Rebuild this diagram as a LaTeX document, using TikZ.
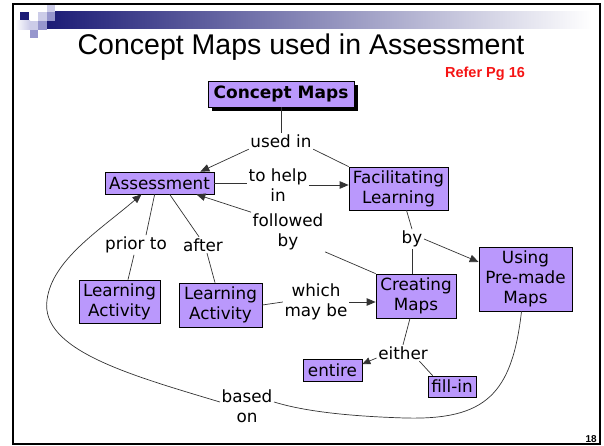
\documentclass[tikz,border=0pt]{standalone}
\usepackage{fontspec}
\setmainfont{DejaVu Sans}
\newfontfamily\arialf{Liberation Sans}
\usetikzlibrary{arrows.meta,calc,shadows}
\definecolor{lav}{RGB}{186,152,252}
\definecolor{barnavy}{RGB}{28,28,118}
\definecolor{sqpale}{RGB}{204,204,232}
\definecolor{sqmid}{RGB}{150,150,205}
\definecolor{refred}{RGB}{245,20,20}
\tikzset{
  cbox/.style={draw=black, line width=0.7pt, fill=lav, font=\fontsize{16.8}{20}\selectfont,
    align=center, inner sep=0pt, text=black},
  lbl/.style={font=\fontsize{16.8}{20}\selectfont, align=center, inner sep=1.5pt, text=black},
  link/.style={draw=black!80, line width=0.7pt},
  arr/.style={link, -{Triangle[length=9pt,width=7.5pt]}},
}
\begin{document}
\begin{tikzpicture}[x=1pt,y=-1pt]
\useasboundingbox (0,0) rectangle (604,446);
% slide frame and header
\draw[line width=2pt] (13,4) rectangle (600,444);
\shade[left color=barnavy, right color=white] (47,12) rectangle (592,29);
\fill[barnavy] (20,12) rectangle (29,21);
\fill[sqpale] (38,12) rectangle (47,21);
\fill[sqpale] (47,5) rectangle (55,12);
\fill[sqmid] (47,12) rectangle (55,21);
\shade[left color=white, right color=sqpale] (15,21) rectangle (30,30);
\fill[sqpale] (30,21) rectangle (38,30);
\fill[sqmid] (38,21) rectangle (47,30);
\fill[sqmid] (30,30) rectangle (38,38);
% titles
\node[font=\arialf\fontsize{28.5}{30}\selectfont] (title) at (301,47) {Concept Maps used in Assessment};
\node[font=\arialf\bfseries\fontsize{14.5}{16}\selectfont, text=refred] (refer) at (485,74) {Refer Pg 16};
\node[font=\arialf\bfseries\fontsize{10}{11}\selectfont, anchor=south east, inner sep=0pt] (pg) at (597,443) {18};
% concept nodes
\node[cbox, font=\bfseries\fontsize{17}{19}\selectfont, minimum width=146pt, minimum height=26pt,
  drop shadow={shadow xshift=4pt, shadow yshift=-4pt, fill=black, opacity=1}] (cm) at (281,94) {Concept Maps};
\node[cbox, minimum width=109pt, minimum height=22pt] (assess) at (159.5,183) {Assessment};
\node[cbox, minimum width=99pt, minimum height=43pt] (facil) at (398.5,188.5) {Facilitating\\Learning};
\node[cbox, minimum width=93pt, minimum height=64pt] (using) at (525.5,279) {Using\\Pre-made\\Maps};
\node[cbox, minimum width=81pt, minimum height=43pt] (la1) at (119.5,301.5) {Learning\\Activity};
\node[cbox, minimum width=83pt, minimum height=44pt] (la2) at (220.5,305) {Learning\\Activity};
\node[cbox, minimum width=80pt, minimum height=44pt] (creating) at (416,296) {Creating\\Maps};
\node[cbox, minimum width=59pt, minimum height=22pt] (entire) at (332.5,370) {entire};
\node[cbox, minimum width=48pt, minimum height=21pt] (fillin) at (452,386.5) {fill-in};
% linking phrases
\node[lbl] (usedin) at (281,141) {used in};
\node[lbl] (tohelp) at (278,185) {to help\\in};
\node[lbl] (followed) at (288,232) {followed\\by};
\node[lbl] (prior) at (136,245) {prior to};
\node[lbl] (after) at (203,245) {after};
\node[lbl] (which) at (316,302) {which\\may be};
\node[lbl] (by) at (412,239) {by};
\node[lbl] (either) at (403,353) {either};
\node[lbl] (basedon) at (247,406) {based\\on};
% connectors
\draw[link] (cm.south) -- (usedin.north);
\draw[arr] (usedin.south west) -- ([xshift=-14pt]assess.north east);
\draw[link] (usedin.south east) -- (facil.north west);
\draw[link] (assess.east) -- (assess.east -| tohelp.west);
\draw[arr] (tohelp.east) -- (tohelp.east -| facil.west);
\draw[link] (followed.south east) -- (creating.north west);
\draw[arr] (followed.north west) -- ([xshift=-18pt]assess.south east);
\draw[link] ([xshift=50pt]assess.south west) -- ([xshift=10pt]prior.north);
\draw[link] ([xshift=-2pt]prior.south) -- ([xshift=8.5pt]la1.north);
\draw[link] ([xshift=65pt]assess.south west) -- ([xshift=-4pt]after.north);
\draw[link] ([xshift=4pt]after.south) -- ([xshift=-5.5pt]la2.north);
\draw[link] (la2.east) -- (which.west);
\draw[arr] (which.east) -- (which.east -| creating.west);
\draw[link] ([xshift=8pt]facil.south) -- (by.north);
\draw[arr] (by.east) -- ([yshift=17pt]using.west);
\draw[link] (by.south) -- (by.south |- creating.north);
\draw[link] ([xshift=-6pt]creating.south) -- (either.north);
\draw[link, -{Triangle[length=8pt,width=7pt]}] ([yshift=-5pt]either.west) -- ([yshift=6pt]entire.east);
\draw[link] ([xshift=-10pt]either.south east) -- ([xshift=5pt]fillin.north west);
\draw[link] ([xshift=-4pt]using.south) .. controls (512,395) and (485,420) .. (405,418)
  .. controls (340,416) and (300,410) .. ([yshift=4pt]basedon.east);
\draw[arr] ([yshift=4pt]basedon.west) .. controls (130,375) and (40,350) .. (47,300)
  .. controls (52,260) and (100,230) .. ([xshift=-18pt]assess.south);
\end{tikzpicture}
\end{document}
